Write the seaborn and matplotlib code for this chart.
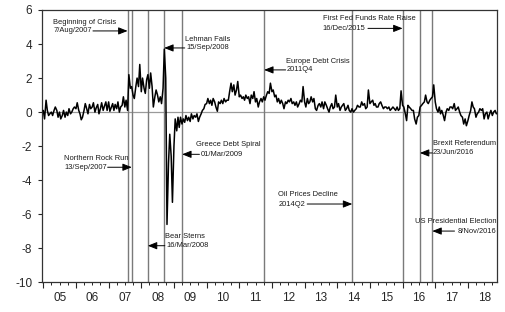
import numpy as np
import pandas as pd
import matplotlib
import matplotlib.pyplot as plt
import seaborn as sns

matplotlib.use('Agg')

# semi-monthly readings (1st and 15th of each month), Jan 2005 - Nov 2018
v2005 = [0.1, -0.4, 0.7, 0.1, -0.2, -0.1, 0.0, -0.2, 0.1, 0.3, 0.1, -0.3,
         0.0, -0.4, -0.2, 0.1, -0.3, 0.0, -0.2, 0.2, -0.1, 0.0, 0.2, 0.3]
v2006 = [0.2, 0.55, 0.1, -0.1, -0.45, -0.3, 0.1, 0.5, 0.2, -0.1, 0.45, 0.2,
         0.3, 0.55, 0.0, 0.25, 0.45, -0.1, 0.2, 0.55, 0.1, 0.35, 0.6, 0.1]
v2007 = [0.6, 0.05, 0.3, 0.5, 0.1, 0.45, 0.2, 0.6, 0.0, 0.3, 0.4, 0.9,
         0.3, 0.7, 0.1, 2.2, 1.4, 1.5, 1.0, 0.8, 1.5, 2.0, 1.5, 2.8]
v2008 = [1.2, 2.0, 1.4, 1.1, 1.9, 2.2, 1.4, 2.3, 1.5, 0.3, 0.9, 1.3,
         1.0, 0.6, 0.9, 0.5, 1.4, 3.7, 2.0, -6.6, -3.0, -1.3, -2.6, -5.3]
v2009 = [-2.0, -0.4, -1.1, -0.3, -0.9, -0.3, -0.7, -0.4, -0.6, -0.2, -0.5, -0.3,
         -0.55, -0.1, -0.4, -0.2, -0.3, -0.1, -0.55, -0.3, -0.1, 0.1, 0.2, 0.45]
v2010 = [0.5, 0.8, 0.5, 0.7, 0.4, 0.8, 0.6, 0.3, 0.05, 0.6, 0.5, 0.7,
         0.5, 0.8, 0.6, 0.7, 0.7, 1.2, 1.7, 1.2, 1.6, 1.0, 1.3, 1.8]
v2011 = [0.9, 1.0, 0.8, 0.9, 0.7, 1.0, 0.8, 0.9, 0.5, 1.0, 0.8, 1.2,
         0.6, 0.8, 0.3, 0.6, 0.8, 0.6, 0.9, 0.7, 1.0, 1.2, 1.1, 1.7]
v2012 = [1.2, 1.3, 0.9, 1.0, 0.6, 0.8, 0.5, 0.7, 0.5, 0.2, 0.6, 0.5,
         0.7, 0.6, 0.8, 0.5, 0.6, 0.4, 0.6, 0.3, 0.5, 0.7, 0.6, 1.5]
v2013 = [0.6, 0.3, 0.8, 0.5, 0.6, 0.9, 0.6, 0.8, 0.2, 0.1, 0.4, 0.5,
         0.3, 0.6, 0.2, 0.6, 0.4, 0.2, 0.0, 0.3, 0.5, 0.2, 0.3, 1.0]
v2014 = [0.3, 0.5, 0.1, 0.3, 0.4, 0.5, 0.1, 0.2, 0.4, 0.1, 0.0, 0.2,
         0.0, 0.1, 0.2, 0.4, 0.3, 0.3, 0.6, 0.4, 0.5, 0.2, 0.3, 1.3]
v2015 = [0.5, 0.6, 0.7, 0.4, 0.5, 0.3, 0.3, 0.5, 0.6, 0.4, 0.2, 0.3,
         0.3, 0.2, 0.3, 0.1, 0.2, 0.3, 0.2, 0.1, 0.3, 0.1, 0.2, 1.25]
v2016 = [0.4, 0.3, -0.1, -0.5, 0.4, 0.3, 0.2, 0.1, 0.1, -0.4, -0.7, -0.3,
         -0.2, 0.3, 0.4, 0.5, 0.6, 1.0, 0.6, 0.5, 0.7, 0.8, 0.9, 1.6]
v2017 = [0.6, 0.2, 0.0, 0.3, -0.1, 0.1, -0.2, -0.5, 0.0, 0.2, 0.1, 0.3,
         0.3, 0.2, 0.5, 0.1, 0.2, 0.3, 0.0, -0.2, -0.3, -0.7, -0.4, -0.8]
v2018 = [-0.5, -0.2, 0.1, 0.6, 0.3, 0.2, -0.3, -0.1, 0.0, 0.2, 0.1, 0.2,
         -0.4, -0.1, 0.0, -0.4, -0.1, 0.1, -0.2, 0.0, 0.1, -0.1]

# event lines (decimal year, as drawn)
event_dates = [2007.58, 2007.71, 2008.20, 2008.70, 2009.25,
               2011.76, 2014.46, 2016.00, 2016.53, 2016.91]

year_labels = ['05', '06', '07', '08', '09', '10', '11',
               '12', '13', '14', '15', '16', '17', '18']

values = (v2005 + v2006 + v2007 + v2008 + v2009 + v2010 + v2011 + v2012
          + v2013 + v2014 + v2015 + v2016 + v2017 + v2018)
dates = pd.date_range('2005-01-01', periods=len(values), freq='SMS')
t = dates.year + (dates.dayofyear - 1) / np.where(dates.is_leap_year, 366, 365)
df = pd.DataFrame({'t': t, 'value': values})

sns.set_style('ticks')
plt.rcParams['font.family'] = ['Liberation Sans', 'DejaVu Sans']
plt.rcParams['axes.unicode_minus'] = False

fig = plt.figure(figsize=(5.05, 3.12), dpi=100)
ax = fig.add_axes([42 / 505, 1 - 282.3 / 312, (497.3 - 42) / 505, (282.3 - 10) / 312])

ax.axhline(0, color='#9a9a9a', lw=0.9, zorder=1)
for d in event_dates:
    ax.axvline(d, color='#7a7a7a', lw=1.0, zorder=1)

sns.lineplot(data=df, x='t', y='value', color='black', lw=1.1, ax=ax, zorder=3)

ax.set_xlim(2004.96, 2018.9)
ax.set_ylim(-10, 6)
ax.set_yticks(np.arange(-10, 7, 2))
ax.set_xticks(np.arange(2005, 2019))
ax.set_xticklabels([])
ax.set_xticks(np.arange(2005, 2018.9, 0.25), minor=True)
ax.tick_params(axis='x', which='major', length=4, width=0.8, direction='out')
ax.tick_params(axis='x', which='minor', length=2.2, width=0.7, direction='out')
ax.tick_params(axis='y', length=3, width=0.8, pad=4, labelsize=8.5)
ax.set_xlabel('')
ax.set_ylabel('')
for s in ax.spines.values():
    s.set_visible(True)
    s.set_color('#333333')
    s.set_linewidth(0.9)

sec = ax.secondary_xaxis('bottom')
sec.set_xticks(np.arange(2005, 2019) + 0.5)
sec.set_xticklabels(year_labels)
sec.tick_params(length=0, pad=7, labelsize=8.5)
sec.spines['bottom'].set_visible(False)

fs = 5.4
# (line1, x1, y1, line2, x2, y2, align, arrow tail, arrow tip)
notes = [
    ('Beginning of Crisis', 2005.29, 5.25, '7/Aug/2007', 2005.30, 4.77, 'left',
     (2006.52, 4.77), (2007.58, 4.77)),
    ('Northern Rock Run', 2005.64, -2.71, '13/Sep/2007', 2005.64, -3.24, 'left',
     (2006.97, -3.24), (2007.71, -3.24)),
    ('Lehman Fails', 2009.35, 4.24, '15/Sep/2008', 2009.37, 3.77, 'left',
     (2009.33, 3.77), (2008.70, 3.77)),
    ('Greece Debt Spiral', 2009.67, -1.93, '01/Mar/2009', 2009.83, -2.48, 'left',
     (2009.78, -2.48), (2009.25, -2.48)),
    ('Bear Sterns', 2008.72, -7.32, '16/Mar/2008', 2008.76, -7.85, 'left',
     (2008.72, -7.85), (2008.20, -7.85)),
    ('Europe Debt Crisis', 2012.43, 3.0, '2011Q4', 2012.46, 2.48, 'left',
     (2012.42, 2.48), (2011.76, 2.48)),
    ('First Fed Funds Rate Raise', 2013.55, 5.51, '16/Dec/2015', 2013.55, 4.92, 'left',
     (2014.94, 4.92), (2016.00, 4.92)),
    ('Oil Prices Decline', 2012.19, -4.83, '2014Q2', 2012.22, -5.40, 'left',
     (2013.08, -5.40), (2014.46, -5.40)),
    ('Brexit Referendum', 2016.92, -1.87, '23/Jun/2016', 2016.93, -2.40, 'left',
     (2016.91, -2.40), (2016.53, -2.40)),
    ('US Presidential Election', 2018.87, -6.44, '8/Nov/2016', 2018.87, -6.99, 'right',
     (2017.59, -6.99), (2016.91, -6.99)),
]

for l1, x1, y1, l2, x2, y2, ha, tail, tip in notes:
    ax.text(x1, y1, l1, fontsize=fs, ha=ha, va='center', color='#1a1a1a', zorder=4)
    ax.text(x2, y2, l2, fontsize=fs, ha=ha, va='center', color='#1a1a1a', zorder=4)
    ax.annotate('', xy=tip, xytext=tail,
                arrowprops=dict(arrowstyle='-|>,head_length=0.55,head_width=0.22',
                                color='black', lw=0.7, shrinkA=0, shrinkB=0),
                zorder=4)

fig.savefig('out.png', dpi=100)
